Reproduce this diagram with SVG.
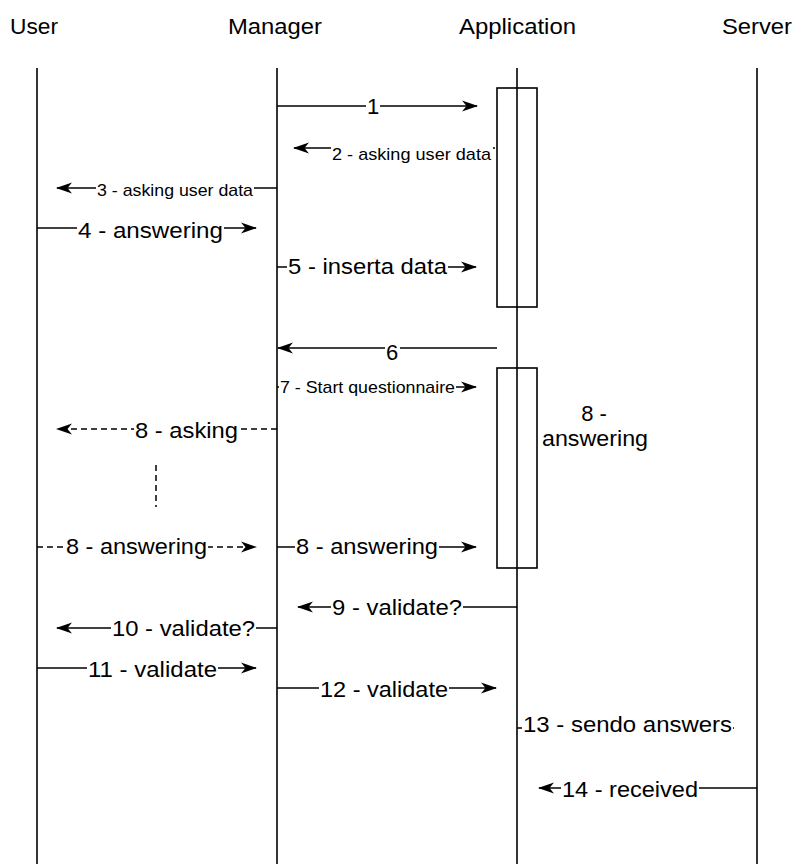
<svg xmlns="http://www.w3.org/2000/svg" width="794" height="864" viewBox="0 0 794 864">
<style>
text{font-family:"Liberation Sans",Arial,sans-serif;fill:#000}
.hdr{font-size:22px}
.lbl{font-size:22px}
.sm{font-size:17px}
.life{stroke:#000;stroke-width:1.6;fill:none}
.act{stroke:#000;stroke-width:1.6;fill:none}
.msg{stroke:#000;stroke-width:1.5;fill:none}
.dash{stroke-dasharray:6 4}
.bg{fill:#fff}
</style>
<defs>
<marker id="arr" viewBox="0 0 16 12" refX="15" refY="6" markerWidth="16" markerHeight="12" markerUnits="userSpaceOnUse" orient="auto">
<path d="M0,0.5 L16,6 L0,11.5 L4.5,6 Z" fill="#000"/>
</marker>
</defs>

<g id="user">
<text class="hdr" x="10" y="34" textLength="48" lengthAdjust="spacingAndGlyphs">User</text>
<line class="life" x1="37" y1="68" x2="37" y2="864"/>
</g>
<g id="manager">
<text class="hdr" x="228" y="34" textLength="94" lengthAdjust="spacingAndGlyphs">Manager</text>
<line class="life" x1="277" y1="68" x2="277" y2="864"/>
</g>
<g id="application">
<text class="hdr" x="459" y="34" textLength="117" lengthAdjust="spacingAndGlyphs">Application</text>
<line class="life" x1="517" y1="68" x2="517" y2="864"/>
<rect class="act" x="497" y="88" width="40" height="219"/>
<rect class="act" x="497" y="368" width="40" height="200"/>
<text class="lbl" x="594" y="421" text-anchor="middle">8 -</text>
<text class="lbl" x="542" y="446" textLength="106" lengthAdjust="spacingAndGlyphs">answering</text>
</g>
<g id="server">
<text class="hdr" x="722" y="34" textLength="70" lengthAdjust="spacingAndGlyphs">Server</text>
<line class="life" x1="757" y1="68" x2="757" y2="864"/>
</g>

<g id="connectors">
<line class="msg" x1="277" y1="106" x2="477" y2="106" marker-end="url(#arr)"/>
<line class="msg" x1="495" y1="148" x2="294" y2="148" marker-end="url(#arr)"/>
<line class="msg" x1="277" y1="188" x2="57" y2="188" marker-end="url(#arr)"/>
<line class="msg" x1="37" y1="228" x2="256" y2="228" marker-end="url(#arr)"/>
<line class="msg" x1="277" y1="267" x2="476" y2="267" marker-end="url(#arr)"/>
<line class="msg" x1="497" y1="348" x2="278" y2="348" marker-end="url(#arr)"/>
<line class="msg" x1="277" y1="387" x2="476" y2="387" marker-end="url(#arr)"/>
<line class="msg dash" x1="277" y1="429" x2="57" y2="429" marker-end="url(#arr)"/>
<line class="msg dash" x1="156" y1="465" x2="156" y2="507"/>
<line class="msg dash" x1="37" y1="547" x2="256" y2="547" marker-end="url(#arr)"/>
<line class="msg" x1="277" y1="547" x2="476" y2="547" marker-end="url(#arr)"/>
<line class="msg" x1="517" y1="607" x2="298" y2="607" marker-end="url(#arr)"/>
<line class="msg" x1="277" y1="628" x2="57" y2="628" marker-end="url(#arr)"/>
<line class="msg" x1="37" y1="668" x2="256" y2="668" marker-end="url(#arr)"/>
<line class="msg" x1="277" y1="688" x2="496" y2="688" marker-end="url(#arr)"/>
<line class="msg" x1="517" y1="728" x2="734" y2="728"/>
<line class="msg" x1="757" y1="788" x2="539" y2="788" marker-end="url(#arr)"/>

<rect class="bg" x="366" y="96" width="14" height="22"/>
<text class="lbl" x="367" y="114">1</text>
<rect class="bg" x="331" y="145" width="162" height="19"/>
<text class="sm" x="332" y="160" textLength="159" lengthAdjust="spacingAndGlyphs">2 - asking user data</text>
<rect class="bg" x="96" y="181" width="158" height="19"/>
<text class="sm" x="97" y="196" textLength="156" lengthAdjust="spacingAndGlyphs">3 - asking user data</text>
<rect class="bg" x="77" y="220" width="147" height="22"/>
<text class="lbl" x="78" y="238" textLength="145" lengthAdjust="spacingAndGlyphs">4 - answering</text>
<rect class="bg" x="287" y="256" width="161" height="22"/>
<text class="lbl" x="288" y="274" textLength="159" lengthAdjust="spacingAndGlyphs">5 - inserta data</text>
<rect class="bg" x="385" y="342" width="15" height="21"/>
<text class="lbl" x="386" y="360">6</text>
<rect class="bg" x="279" y="379" width="177" height="18"/>
<text class="sm" x="280" y="393" textLength="175" lengthAdjust="spacingAndGlyphs">7 - Start questionnaire</text>
<rect class="bg" x="134" y="420" width="106" height="22"/>
<text class="lbl" x="135" y="438" textLength="103" lengthAdjust="spacingAndGlyphs">8 - asking</text>
<rect class="bg" x="65" y="536" width="143" height="22"/>
<text class="lbl" x="66" y="554" textLength="141" lengthAdjust="spacingAndGlyphs">8 - answering</text>
<rect class="bg" x="295" y="536" width="144" height="22"/>
<text class="lbl" x="296" y="554" textLength="142" lengthAdjust="spacingAndGlyphs">8 - answering</text>
<rect class="bg" x="331" y="597" width="132" height="22"/>
<text class="lbl" x="332" y="615" textLength="130" lengthAdjust="spacingAndGlyphs">9 - validate?</text>
<rect class="bg" x="111" y="618" width="145" height="22"/>
<text class="lbl" x="112" y="636" textLength="143" lengthAdjust="spacingAndGlyphs">10 - validate?</text>
<rect class="bg" x="87" y="659" width="131" height="22"/>
<text class="lbl" x="88" y="677" textLength="129" lengthAdjust="spacingAndGlyphs">11 - validate</text>
<rect class="bg" x="319" y="679" width="130" height="22"/>
<text class="lbl" x="320" y="697" textLength="128" lengthAdjust="spacingAndGlyphs">12 - validate</text>
<rect class="bg" x="522" y="714" width="211" height="22"/>
<text class="lbl" x="523" y="732" textLength="209" lengthAdjust="spacingAndGlyphs">13 - sendo answers</text>
<rect class="bg" x="561" y="779" width="138" height="22"/>
<text class="lbl" x="562" y="797" textLength="136" lengthAdjust="spacingAndGlyphs">14 - received</text>
</g>
</svg>
